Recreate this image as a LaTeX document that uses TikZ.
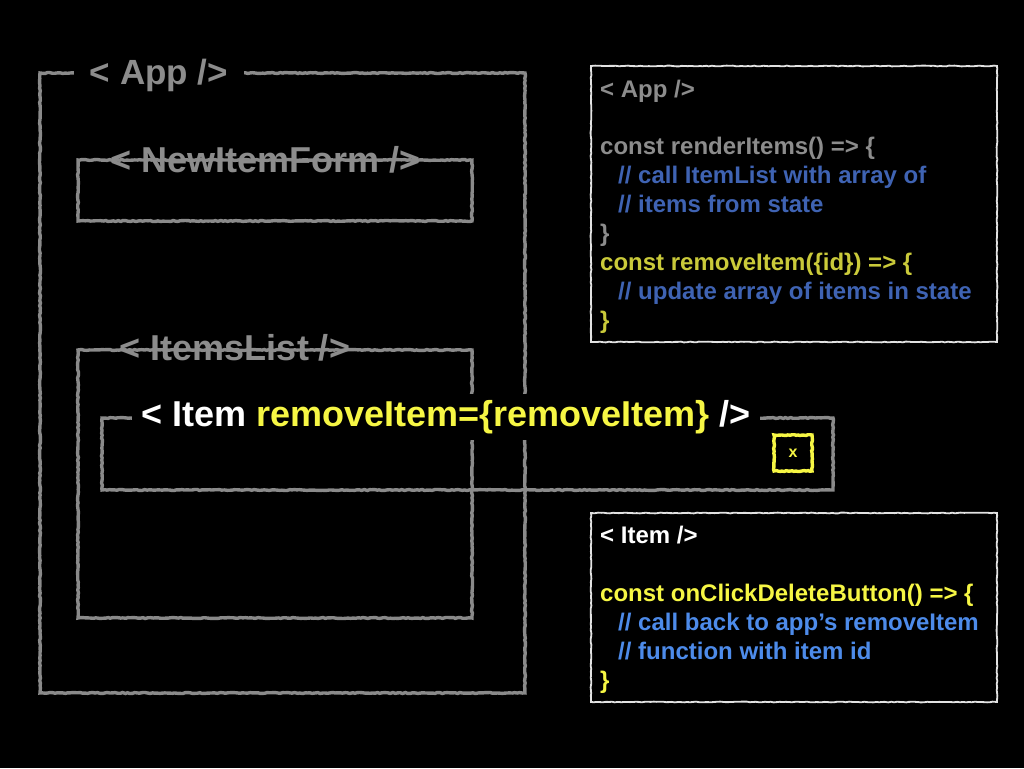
\documentclass[tikz,border=0pt]{standalone}
\usepackage{fontspec}
\setmainfont{Liberation Sans}
\usetikzlibrary{decorations.pathmorphing}
\definecolor{chalkgray}{HTML}{8A8A8A}
\definecolor{labelgray}{HTML}{8C8C8C}
\definecolor{dimblue}{HTML}{3F63B3}
\definecolor{dimyellow}{HTML}{CACA3A}
\definecolor{brightyellow}{HTML}{F6F644}
\definecolor{brightblue}{HTML}{4D8BEA}
\definecolor{chalkwhite}{HTML}{E2E2E2}
\tikzset{
  chalk/.style={draw=chalkgray, line width=3.4pt, inner sep=0pt, outer sep=0pt,
    decorate, decoration={random steps, segment length=2.5pt, amplitude=0.5pt}},
  chalkthin/.style={draw=chalkwhite, line width=1.8pt, inner sep=0pt, outer sep=0pt,
    decorate, decoration={random steps, segment length=3pt, amplitude=0.4pt}},
  ybox/.style={draw=brightyellow, line width=3.4pt, inner sep=0pt, outer sep=0pt,
    decorate, decoration={random steps, segment length=2pt, amplitude=0.5pt}},
  biglabel/.style={font=\fontsize{36}{40}\selectfont\bfseries, text=labelgray, inner sep=0pt},
  codeline/.style={font=\fontsize{24}{28}\selectfont\bfseries, inner sep=0pt, anchor=base west},
}
\begin{document}
\begin{tikzpicture}[x=1pt,y=-1pt]
\pgfmathsetseed{7}
\fill[black] (0,0) rectangle (1024,768);
\useasboundingbox (0,0) rectangle (1024,768);

% App box
\node[chalk, anchor=north west, minimum width=485pt, minimum height=620pt] (app) at (40,73) {};
\node[biglabel, fill=black, inner xsep=16pt, inner ysep=4pt, font=\fontsize{35}{40}\selectfont\bfseries] (applabel) at (159,75) {< App />};

% NewItemForm box
\node[chalk, anchor=north west, minimum width=394pt, minimum height=61pt] (newform) at (78,160) {};
\node[biglabel] (newformlabel) at (266,160) {< NewItemForm />};

% ItemsList box
\node[chalk, anchor=north west, minimum width=394pt, minimum height=268pt] (itemslist) at (78,350) {};
\node[biglabel] (itemslistlabel) at (235,348) {< ItemsList />};

% Item box
\node[chalk, anchor=north west, minimum width=731pt, minimum height=72pt] (item) at (102,418) {};
\node[font=\fontsize{36}{40}\selectfont\bfseries, fill=black, inner xsep=9pt, inner ysep=6pt, text=white] (itemlabel) at (446,417)
  {< Item \textcolor{brightyellow}{removeItem=\{removeItem\}} />};

% x button
\node[ybox, minimum width=38pt, minimum height=36pt, font=\fontsize{16}{18}\selectfont\bfseries, text=brightyellow] (xbtn) at (793,453) {x};

% App code box
\node[chalkthin, anchor=north west, minimum width=406pt, minimum height=276pt] (appcode) at (591,66) {};
\node[codeline, text=labelgray] (a1) at (600,97) {< App />};
\node[codeline, text=labelgray] (a2) at (600,154) {const renderItems() => \{};
\node[codeline, text=dimblue] (a3) at (618,183) {// call ItemList with array of};
\node[codeline, text=dimblue] (a4) at (618,212) {// items from state};
\node[codeline, text=labelgray] (a5) at (600,241) {\}};
\node[codeline, text=dimyellow] (a6) at (600,270) {const removeItem(\{id\}) => \{};
\node[codeline, text=dimblue] (a7) at (618,299) {// update array of items in state};
\node[codeline, text=dimyellow] (a8) at (600,328) {\}};

% Item code box
\node[chalkthin, anchor=north west, minimum width=406pt, minimum height=189pt] (itemcode) at (591,513) {};
\node[codeline, text=white] (b1) at (600,543) {< Item />};
\node[codeline, text=brightyellow] (b2) at (600,601) {const onClickDeleteButton() => \{};
\node[codeline, text=brightblue] (b3) at (618,630) {// call back to app’s removeItem};
\node[codeline, text=brightblue] (b4) at (618,659) {// function with item id};
\node[codeline, text=brightyellow] (b5) at (600,688) {\}};
\end{tikzpicture}
\end{document}
